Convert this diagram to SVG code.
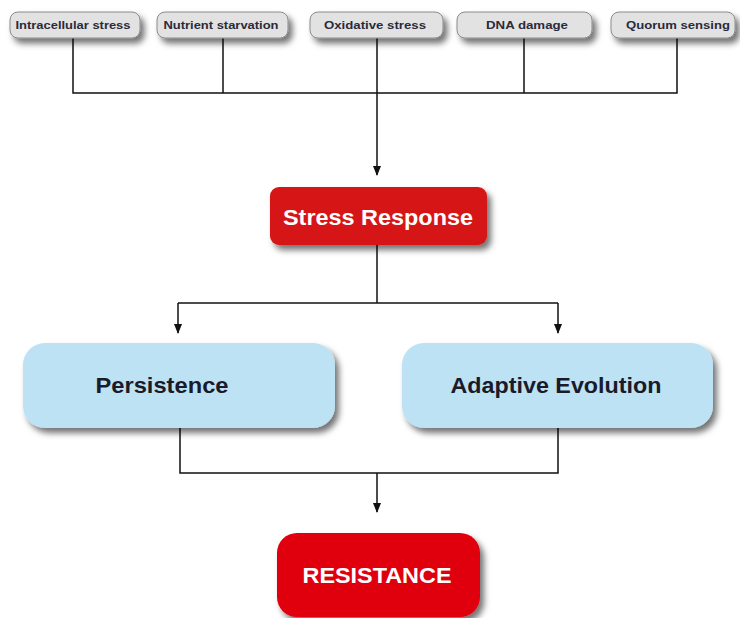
<svg xmlns="http://www.w3.org/2000/svg" width="740" height="618" viewBox="0 0 740 618">
<defs>
<filter id="sh" x="-20%" y="-30%" width="150%" height="180%">
<feDropShadow dx="4" dy="5" stdDeviation="3" flood-color="#000" flood-opacity="0.55"/>
</filter>
<marker id="arr" viewBox="0 0 10 10" refX="9" refY="5" markerWidth="10" markerHeight="10" markerUnits="userSpaceOnUse" orient="auto">
<path d="M0,1 L10,5 L0,9 Z" fill="#111"/>
</marker>
<style>
.top rect{fill:#e2e2e2;stroke:#8a8a8a;stroke-width:1;filter:url(#sh)}
.top text{font-family:"Liberation Sans",Arial,sans-serif;font-weight:bold;font-size:11px;fill:#2a2a3a;text-anchor:middle}
.red rect{filter:url(#sh)}
.red text{font-family:"Liberation Sans",Arial,sans-serif;font-weight:bold;font-size:22px;fill:#fff;text-anchor:middle}
.blue rect{fill:#bde2f3;filter:url(#sh)}
.blue text{font-family:"Liberation Sans",Arial,sans-serif;font-weight:bold;font-size:22px;fill:#1a1a2a;text-anchor:middle}
.conn path{fill:none;stroke:#111;stroke-width:1.5}
</style>
</defs>
<rect width="740" height="618" fill="#fff"/>
<g class="conn">
<path d="M73,38 V93 H677 V38"/>
<path d="M223,38 V93"/>
<path d="M524,38 V93"/>
<path d="M377,38 V175" marker-end="url(#arr)"/>
<path d="M377,245 V303"/>
<path d="M178,303 H558"/>
<path d="M178,303 V333" marker-end="url(#arr)"/>
<path d="M558,303 V333" marker-end="url(#arr)"/>
<path d="M180,428 V473 H558 V428"/>
<path d="M377,473 V512" marker-end="url(#arr)"/>
</g>
<g id="n1" class="top"><rect x="10" y="12" width="130" height="26" rx="8"/><text x="73" y="29" textLength="115" lengthAdjust="spacingAndGlyphs">Intracellular stress</text></g>
<g id="n2" class="top"><rect x="157" y="12" width="131" height="26" rx="8"/><text x="221" y="29" textLength="115" lengthAdjust="spacingAndGlyphs">Nutrient starvation</text></g>
<g id="n3" class="top"><rect x="310" y="12" width="133" height="26" rx="8"/><text x="375" y="29" textLength="102" lengthAdjust="spacingAndGlyphs">Oxidative stress</text></g>
<g id="n4" class="top"><rect x="457" y="12" width="135" height="26" rx="8"/><text x="527" y="29" textLength="82" lengthAdjust="spacingAndGlyphs">DNA damage</text></g>
<g id="n5" class="top"><rect x="611" y="12" width="124" height="26" rx="8"/><text x="678" y="29" textLength="104" lengthAdjust="spacingAndGlyphs">Quorum sensing</text></g>
<g id="stress" class="red"><rect x="270" y="187" width="217" height="58" rx="9" fill="#d61515"/><text x="378" y="225" textLength="190" lengthAdjust="spacingAndGlyphs">Stress Response</text></g>
<g id="persist" class="blue"><rect x="23" y="343" width="312" height="85" rx="22"/><text x="162" y="393" textLength="133" lengthAdjust="spacingAndGlyphs">Persistence</text></g>
<g id="adapt" class="blue"><rect x="402" y="343" width="311" height="85" rx="22"/><text x="556" y="393" textLength="211" lengthAdjust="spacingAndGlyphs">Adaptive Evolution</text></g>
<g id="resist" class="red"><rect x="277" y="533" width="203" height="84" rx="20" fill="#e0000e"/><text x="377" y="583" textLength="149" lengthAdjust="spacingAndGlyphs">RESISTANCE</text></g>
</svg>
